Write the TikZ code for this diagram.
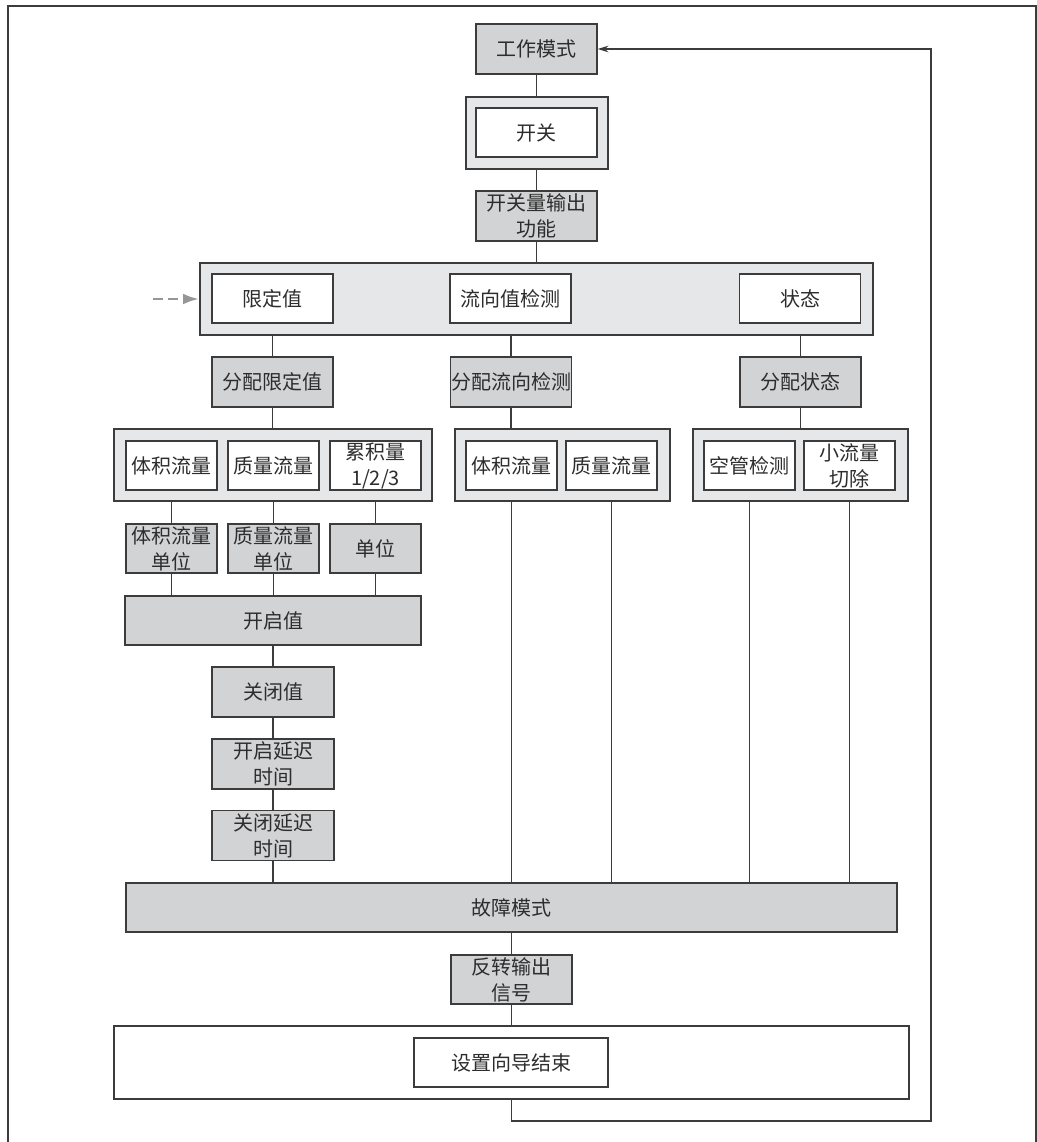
\documentclass[tikz,border=0pt]{standalone}
\usepackage{fontspec}
\newfontfamily\cjk{Noto Sans CJK SC}
\usetikzlibrary{arrows.meta}
\definecolor{boxgray}{RGB}{209,211,212}
\definecolor{grpgray}{RGB}{230,231,232}
\definecolor{edgecol}{RGB}{60,60,60}
\definecolor{txtcol}{RGB}{45,45,45}
\definecolor{dashgray}{RGB}{150,150,150}
\begin{document}
\begin{tikzpicture}[x=0.75pt,y=-0.75pt,
  boxbase/.style={draw=edgecol, line width=1.2pt, inner sep=0pt, align=center, text=txtcol,
    font=\cjk\fontsize{15pt}{19.5pt}\selectfont},
  sz/.style 2 args={minimum width=#1*0.75pt, minimum height=#2*0.75pt},
  graybox/.style={boxbase, fill=boxgray},
  whitebox/.style={boxbase, fill=white},
  grpbox/.style={boxbase, fill=grpgray},
  conn/.style={draw=edgecol, line width=0.8pt}
]
\useasboundingbox (0,0) rectangle (1037,1142);
% frame
\draw[edgecol, line width=1.6pt] (8,1160) -- (8,6) -- (1036,6) -- (1036,1160);

% containers
\node[grpbox, sz={142}{72}] (swO) at (537,133) {};
\node[grpbox, sz={673}{72}] (big) at (536.5,299) {};
\node[grpbox, sz={318}{72}] (g1) at (273,465) {};
\node[grpbox, sz={215}{72}] (g2) at (562.5,465) {};
\node[grpbox, sz={215}{72}] (g3) at (800.5,465) {};
\node[whitebox, sz={795}{73}] (endO) at (511.5,1062.5) {};

% boxes
\node[graybox, sz={121}{50}] (mode) at (536.5,49) {工作模式};
\node[whitebox, sz={121}{49}] (sw) at (536.5,132.5) {开关};
\node[graybox, sz={121}{50}] (func) at (536.5,216) {开关量输出\\功能};

\node[whitebox, sz={121}{49}] (lim) at (272.5,298.5) {限定值};
\node[whitebox, sz={121}{49}] (flow) at (510.5,298.5) {流向值检测};
\node[whitebox, sz={121}{49}] (stat) at (800,298.5) {状态};

\node[graybox, sz={121}{50}] (alim) at (272.5,382) {分配限定值};
\node[graybox, sz={121}{50}] (aflow) at (511,382) {分配流向检测};
\node[graybox, sz={121}{50}] (astat) at (800.5,382) {分配状态};

\node[whitebox, sz={91}{49}] (g1a) at (171.5,465.5) {体积流量};
\node[whitebox, sz={91}{49}] (g1b) at (273.5,465.5) {质量流量};
\node[whitebox, sz={91}{49}] (g1c) at (375.5,465.5) {累积量\\1/2/3};
\node[whitebox, sz={91}{49}] (g2a) at (511.5,465.5) {体积流量};
\node[whitebox, sz={91}{49}] (g2b) at (611.5,465.5) {质量流量};
\node[whitebox, sz={91}{49}] (g3a) at (749.5,465.5) {空管检测};
\node[whitebox, sz={91}{49}] (g3b) at (849.5,465.5) {小流量\\切除};

\node[graybox, sz={91}{49}] (u1) at (171.5,548.5) {体积流量\\单位};
\node[graybox, sz={91}{49}] (u2) at (273.5,548.5) {质量流量\\单位};
\node[graybox, sz={91}{49}] (u3) at (375.5,548.5) {单位};

\node[graybox, sz={296}{49}] (on) at (273,620.5) {开启值};
\node[graybox, sz={122}{50}] (off) at (273,692) {关闭值};
\node[graybox, sz={122}{50}] (ond) at (273,764) {开启延迟\\时间};
\node[graybox, sz={122}{50}] (offd) at (273,835.5) {关闭延迟\\时间};

\node[graybox, sz={771}{49}] (fault) at (511.5,907.5) {故障模式};
\node[graybox, sz={121}{49}] (inv) at (511.5,979.5) {反转输出\\信号};
\node[whitebox, sz={194}{49}] (end) at (511,1062.5) {设置向导结束};

% connectors
\draw[conn] (mode.south) -- (mode.south |- swO.north);
\draw[conn] (func.north |- swO.south) -- (func.north);
\draw[conn] (func.south) -- (func.south |- big.north);
\draw[conn] (alim.north |- big.south) -- (alim.north);
\draw[conn] (aflow.north |- big.south) -- (aflow.north);
\draw[conn] (astat.north |- big.south) -- (astat.north);
\draw[conn] (alim.south) -- (alim.south |- g1.north);
\draw[conn] (aflow.south) -- (aflow.south |- g2.north);
\draw[conn] (astat.south) -- (astat.south |- g3.north);
\draw[conn] (u1.north |- g1.south) -- (u1.north);
\draw[conn] (u2.north |- g1.south) -- (u2.north);
\draw[conn] (u3.north |- g1.south) -- (u3.north);
\draw[conn] (u1.south) -- (u1.south |- on.north);
\draw[conn] (u2.south) -- (u2.south |- on.north);
\draw[conn] (u3.south) -- (u3.south |- on.north);
\draw[conn] (on.south -| off.north) -- (off.north);
\draw[conn] (off.south) -- (ond.north);
\draw[conn] (ond.south) -- (offd.north);
\draw[conn] (offd.south) -- (offd.south |- fault.north);
\draw[conn] (g2a.south |- g2.south) -- (g2a.south |- fault.north);
\draw[conn] (g2b.south |- g2.south) -- (g2b.south |- fault.north);
\draw[conn] (g3a.south |- g3.south) -- (g3a.south |- fault.north);
\draw[conn] (g3b.south |- g3.south) -- (g3b.south |- fault.north);
\draw[conn] (inv.north |- fault.south) -- (inv.north);
\draw[conn] (inv.south) -- (inv.south |- endO.north);

% loop back
\coordinate (lp) at (931,1121);
\draw[conn, -{Stealth[length=8pt,width=5pt]}] (endO.south) |- (lp) |- (mode.east);

% dashed entry arrow
\coordinate (ds) at (153,299);
\draw[dashgray, line width=2.2pt, dash pattern=on 7.5pt off 3.75pt, -{Latex[length=12pt,width=8pt]}] (ds) -- (big.west);
\end{tikzpicture}
\end{document}
